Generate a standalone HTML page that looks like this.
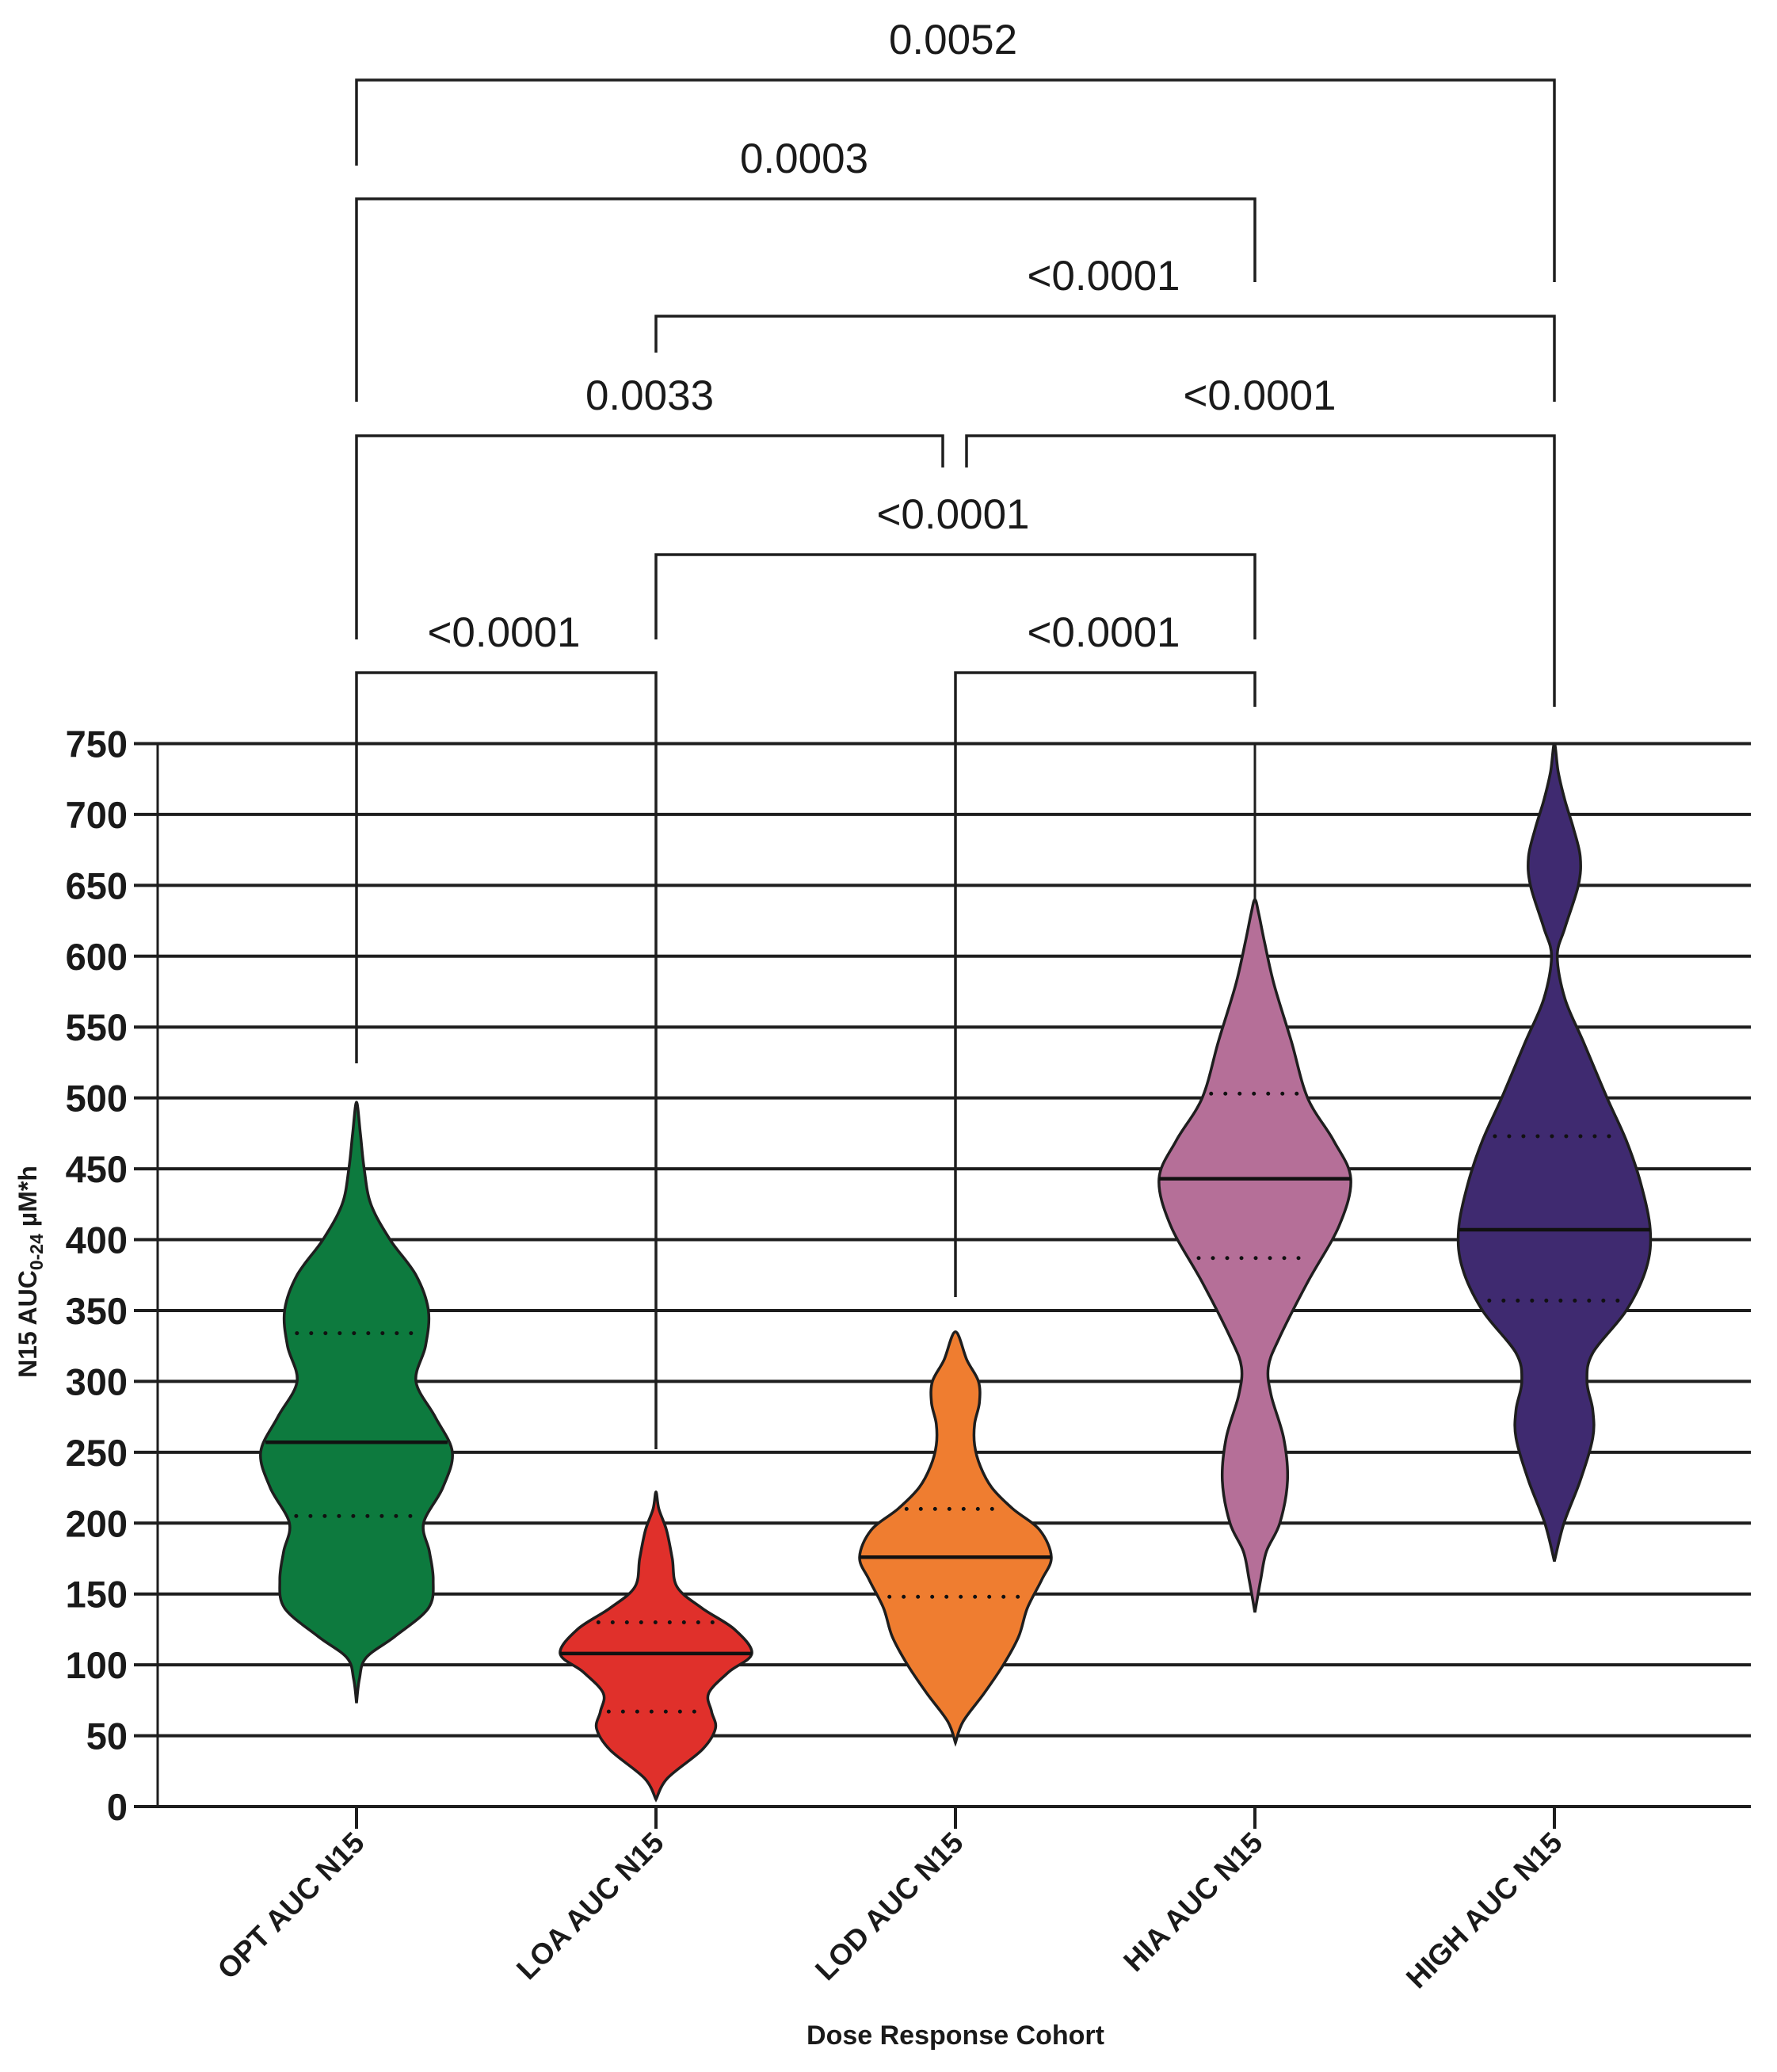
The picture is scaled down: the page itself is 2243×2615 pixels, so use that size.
<!DOCTYPE html>
<html><head><meta charset="utf-8"><style>
html,body{margin:0;padding:0;background:#fff;}
svg{display:block;}
text{font-family:"Liberation Sans",Arial,sans-serif;fill:#1a1a1a;}
</style></head><body>
<svg id="chart" width="2243" height="2615" viewBox="0 0 2243 2615" xmlns="http://www.w3.org/2000/svg">
<g id="grid"></g>
<g id="violins"></g>
<g id="axes"></g>
<g id="brackets"></g>
<text x="1206" y="2580" font-size="34" font-weight="bold" text-anchor="middle">Dose Response Cohort</text>
<text transform="translate(46,1605) rotate(-90)" font-size="32" font-weight="bold" text-anchor="middle">N15 AUC<tspan font-size="23" dy="8">0-24</tspan><tspan dy="-8"> µM*h</tspan></text>
</svg>
<script>
const categories = ["OPT AUC N15","LOA AUC N15","LOD AUC N15","HIA AUC N15","HIGH AUC N15"];
const colors = ["#0d7a3e","#e0302b","#ef7d30","#b56f98","#3f2a70"];
const yTicks = [0,50,100,150,200,250,300,350,400,450,500,550,600,650,700,750];
const medians = [257,108,176,443,407];
const q1s = [205,67,148,387,357];
const q3s = [334,130,210,503,473];
const tailMins = [73,5,45,137,173];
const tailMaxs = [497,222,335,640,750];
// density profiles: value levels and relative half-widths
const optVals = [73,90,105,120,140,160,180,200,225,250,275,300,325,350,375,400,425,450,475,497];
const optDens = [0,0.03,0.1,0.4,0.75,0.8,0.76,0.7,0.9,1.0,0.82,0.62,0.72,0.75,0.62,0.35,0.15,0.08,0.04,0];
const loaVals = [5,20,40,55,67,80,95,108,125,140,155,175,195,210,222];
const loaDens = [0,0.12,0.48,0.62,0.58,0.55,0.76,1.0,0.82,0.48,0.22,0.17,0.11,0.03,0];
const lodVals = [45,60,80,100,120,140,160,176,195,210,225,240,255,270,285,300,315,335];
const lodDens = [0,0.08,0.3,0.5,0.66,0.75,0.9,1.0,0.88,0.6,0.38,0.26,0.2,0.2,0.25,0.24,0.12,0];
const hiaVals = [137,160,180,200,230,260,290,310,330,370,410,443,470,500,540,580,610,630,640];
const hiaDens = [0,0.06,0.12,0.26,0.34,0.3,0.17,0.14,0.25,0.55,0.88,1.0,0.82,0.55,0.38,0.2,0.1,0.04,0];
const highVals = [173,200,230,260,280,300,320,350,380,407,440,470,500,540,570,600,620,650,670,690,710,730,750];
const highDens = [0,0.1,0.27,0.4,0.4,0.34,0.4,0.75,0.96,1.0,0.9,0.75,0.55,0.3,0.11,0.03,0.11,0.25,0.27,0.2,0.11,0.04,0];
const profVals = [optVals,loaVals,lodVals,hiaVals,highVals];
const profDens = [optDens,loaDens,lodDens,hiaDens,highDens];
const bracketLabels = ["0.0052","0.0003","<0.0001","0.0033","<0.0001","<0.0001","<0.0001","<0.0001"];

const NS="http://www.w3.org/2000/svg";
const X0=199, X1=2210, Y0=2280, PXU=1.7887, CX0=450, DX=378, HW=121;
const yS=v=>Y0-v*PXU;
const xS=i=>CX0+i*DX;
function mk(tag,attrs,parent){const e=document.createElementNS(NS,tag);for(const k in attrs)e.setAttribute(k,attrs[k]);parent.appendChild(e);return e;}
const grid=document.getElementById('grid'),axes=document.getElementById('axes'),vg=document.getElementById('violins'),bg=document.getElementById('brackets');

yTicks.forEach(t=>{
  const y=yS(t);
  if(t>0){const g=mk('line',{x1:X0,x2:X1,y1:y,y2:y,stroke:'#1e1e1e','stroke-width':4},grid);
  
  }
  const tk=mk('line',{x1:169,x2:X0,y1:y,y2:y,stroke:'#1e1e1e','stroke-width':4},axes);
  
  
  const lb=mk('text',{x:161,y:y+17,'font-size':47,'font-weight':'bold','text-anchor':'end'},axes);
  lb.textContent=t;
  
  
});
let a=mk('line',{x1:X0,x2:X0,y1:yS(750),y2:Y0,stroke:'#1e1e1e','stroke-width':3},axes);


a=mk('line',{x1:X0,x2:X1,y1:Y0,y2:Y0,stroke:'#1e1e1e','stroke-width':4},axes);



function smooth(pts){
  let d='';
  for(let i=0;i<pts.length-1;i++){
    const p0=pts[Math.max(0,i-1)],p1=pts[i],p2=pts[i+1],p3=pts[Math.min(pts.length-1,i+2)];
    const c1=[p1[0]+(p2[0]-p0[0])/6,p1[1]+(p2[1]-p0[1])/6];
    const c2=[p2[0]-(p3[0]-p1[0])/6,p2[1]-(p3[1]-p1[1])/6];
    d+=` C${c1[0]},${c1[1]} ${c2[0]},${c2[1]} ${p2[0]},${p2[1]}`;
  }
  return d;
}
function halfAt(i,v){const vs=profVals[i],ds=profDens[i];
  for(let k=0;k<vs.length-1;k++){if(v>=vs[k]&&v<=vs[k+1]){const f=(v-vs[k])/(vs[k+1]-vs[k]);return (ds[k]+f*(ds[k+1]-ds[k]))*HW;}}return 0;}

categories.forEach((c,i)=>{
  const cx=xS(i);
  const vs=profVals[i],ds=profDens[i];
  const right=vs.map((v,k)=>[cx+ds[k]*HW,yS(v)]);
  const left=vs.map((v,k)=>[cx-ds[k]*HW,yS(v)]).reverse();
  const all=right.concat(left.slice(1));
  const d='M'+all[0][0]+','+all[0][1]+smooth(all)+' Z';
  const tail=mk('line',{x1:cx,x2:cx,y1:yS(tailMins[i]),y2:yS(vs[0]),stroke:'#1e1e1e','stroke-width':3},vg);
  
  
  const p=mk('path',{d:d,fill:colors[i],stroke:'#1e1e1e','stroke-width':3.5},vg);
  
  
  const m=halfAt(i,medians[i]);
  const ml=mk('line',{x1:cx-m,x2:cx+m,y1:yS(medians[i]),y2:yS(medians[i]),stroke:'#111','stroke-width':4.5},vg);
  
  
  [q1s[i],q3s[i]].forEach((q,j)=>{
    const h=halfAt(i,q)*0.85;
    const ql=mk('line',{x1:cx-h,x2:cx+h,y1:yS(q),y2:yS(q),stroke:'#111','stroke-width':5,'stroke-dasharray':'0 18','stroke-linecap':'round'},vg);
    
    
  });
  const xt=mk('line',{x1:cx,x2:cx,y1:Y0,y2:2308,stroke:'#1e1e1e','stroke-width':4},axes);
  
  
  const lb=mk('text',{transform:`translate(${cx+12},2328) rotate(-45)`,'font-size':37,'font-weight':'bold','text-anchor':'end'},axes);
  lb.textContent=c;
  
  
});

const BR=[
 {x1:xS(0),x2:xS(4),y:101,l1:209,l2:356,lx:1203,ly:68},
 {x1:xS(0),x2:xS(3),y:251,l1:507,l2:356,lx:1015,ly:218},
 {x1:xS(1),x2:xS(4),y:399,l1:445,l2:507,lx:1393,ly:366},
 {x1:xS(0),x2:1190,y:550,l1:807,l2:590,lx:820,ly:517},
 {x1:1220,x2:xS(4),y:550,l1:590,l2:892,lx:1590,ly:517},
 {x1:xS(1),x2:xS(3),y:700,l1:807,l2:807,lx:1203,ly:667},
 {x1:xS(0),x2:xS(1),y:849,l1:1342,l2:1829,lx:636,ly:816},
 {x1:xS(2),x2:xS(3),y:849,l1:1637,l2:892,lx:1393,ly:816}
];
BR.forEach((b,i)=>{
  const p=mk('path',{d:`M${b.x1},${b.l1} V${b.y} H${b.x2} V${b.l2}`,fill:'none',stroke:'#1e1e1e','stroke-width':3.5},bg);
  
  
  const t=mk('text',{x:b.lx,y:b.ly,'font-size':53,'text-anchor':'middle'},bg);
  t.textContent=bracketLabels[i];
  
  
});
let hl=mk('line',{x1:xS(3),x2:xS(3),y1:yS(750),y2:yS(640),stroke:'#1e1e1e','stroke-width':3},bg);


</script>
</body></html>
